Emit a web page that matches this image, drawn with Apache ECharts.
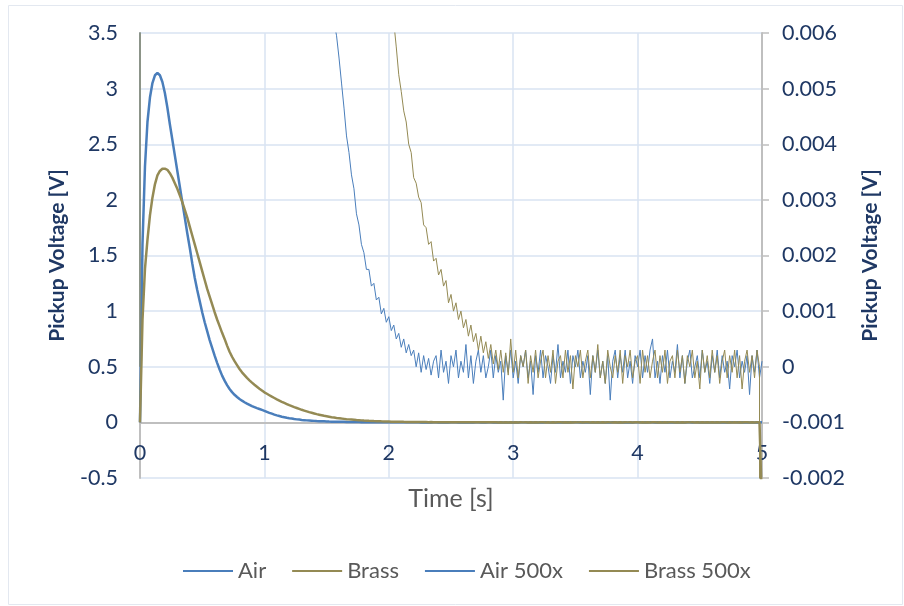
<!DOCTYPE html>
<html>
<head>
<meta charset="utf-8">
<title>Pickup Voltage</title>
<script src="https://cdn.jsdelivr.net/npm/echarts@6.0.0/dist/echarts.min.js"></script>
<style>
  html, body { margin: 0; padding: 0; background: #ffffff; }
  #pickupChart { width: 904px; height: 606px; }
</style>
</head>
<body>
<div id="pickupChart"></div>
<script>
// sample times [s], one sample every 0.02 s from 0 to 5
const times = Array.from({ length: 251 }, (_, i) => +(i * 0.02).toFixed(2));

// pickup voltage [V], ten samples per row (row start time in comment)
const airVolts = [
  0, 1.60, 2.30, 2.70, 2.92, 3.05, 3.12, 3.14, 3.12, 3.06,                                  // 0.00
  2.96, 2.83, 2.68, 2.54, 2.40, 2.26, 2.12, 1.98, 1.84, 1.70,                               // 0.20
  1.57, 1.43, 1.30, 1.19, 1.09, 0.99, 0.90, 0.82, 0.74, 0.67,                               // 0.40
  0.60, 0.535, 0.475, 0.42, 0.375, 0.335, 0.30, 0.272, 0.248, 0.228,                        // 0.60
  0.21, 0.195, 0.181, 0.168, 0.157, 0.146, 0.137, 0.128, 0.12, 0.112,                       // 0.80
  0.104, 0.095, 0.086, 0.078, 0.070, 0.063, 0.057, 0.051, 0.046, 0.041,                     // 1.00
  0.037, 0.034, 0.030, 0.027, 0.025, 0.022, 0.020, 0.018, 0.0165, 0.0150,                   // 1.20
  0.0135, 0.0122, 0.0111, 0.0100, 0.0091, 0.0082, 0.0074, 0.0067, 0.0062, 0.00595,          // 1.40
  0.00555, 0.0051, 0.00465, 0.00415, 0.00385, 0.00345, 0.0032, 0.00275, 0.00255, 0.0022,    // 1.60
  0.00205, 0.00175, 0.00175, 0.00145, 0.0015, 0.0012, 0.00125, 0.00095, 0.00105, 0.0008,    // 1.80
  0.0009, 0.00065, 0.00075, 0.0005, 0.0006, 0.00035, 0.0005, 0.00025, 0.0004, 0.0002,       // 2.00
  0.0003, 0.0000, 0.00025, -0.0001, 0.0002, -0.00005, 0.00015, -0.00015, 0.0001, 0.0002,    // 2.20
  -0.0002, 0.0003, -0.0001, 0.0001, -0.0003, 0.0002, 0.0000, 0.0003, -0.0002, 0.0001,       // 2.40
  -0.0001, 0.0004, -0.0002, 0.0002, -0.0003, 0.0001, 0.0003, -0.0001, 0.0002, -0.0002,      // 2.60
  0.0000, 0.0003, -0.0002, 0.0002, -0.0001, 0.0001, -0.0006, 0.0002, -0.0001, 0.0003,       // 2.80
  -0.0002, 0.0001, -0.0003, 0.0002, 0.0000, 0.0003, -0.0002, 0.0001, -0.0005, 0.0002,       // 3.00
  -0.0001, 0.0003, -0.0002, 0.0002, 0.0000, -0.0003, 0.0002, -0.0001, 0.0004, -0.0002,      // 3.20
  0.0001, -0.0001, 0.0003, -0.0003, 0.0002, 0.0000, 0.0003, -0.0002, 0.0001, -0.0001,       // 3.40
  0.0002, -0.0005, 0.0002, -0.0001, 0.0003, -0.0002, 0.0001, -0.0003, 0.0002, -0.0006,      // 3.60
  0.0001, 0.0003, -0.0002, 0.0002, -0.0001, 0.0003, -0.0002, 0.0001, -0.0003, 0.0002,       // 3.80
  0.0000, 0.0003, -0.0002, 0.0002, -0.0001, 0.0003, 0.0005, -0.0002, 0.0001, -0.0003,       // 4.00
  0.0002, -0.0001, 0.0003, -0.0002, 0.0001, -0.0001, 0.0004, -0.0002, 0.0002, -0.0003,      // 4.20
  0.0001, 0.0003, -0.0002, 0.0000, 0.0002, -0.0002, 0.0003, -0.0001, 0.0001, -0.0003,       // 4.40
  0.0002, -0.0001, 0.0003, -0.0002, 0.0002, -0.0001, 0.0001, -0.0004, 0.0002, 0.0000,       // 4.60
  0.0003, -0.0002, 0.0001, -0.0001, 0.0002, -0.0005, 0.0002, -0.0001, 0.0003, -0.0002,      // 4.80
  0.0001                                                                                    // 5.00
];

const brassVolts = [
  0, 0.92, 1.38, 1.64, 1.86, 2.02, 2.14, 2.22, 2.26, 2.28,                                  // 0.00
  2.28, 2.27, 2.24, 2.20, 2.15, 2.10, 2.04, 1.98, 1.91, 1.84,                               // 0.20
  1.76, 1.68, 1.60, 1.52, 1.44, 1.36, 1.28, 1.20, 1.13, 1.06,                               // 0.40
  0.99, 0.925, 0.865, 0.805, 0.75, 0.69, 0.635, 0.59, 0.55, 0.515,                          // 0.60
  0.48, 0.45, 0.425, 0.40, 0.378, 0.357, 0.338, 0.32, 0.302, 0.286,                         // 0.80
  0.27, 0.257, 0.244, 0.231, 0.219, 0.207, 0.196, 0.185, 0.175, 0.165,                      // 1.00
  0.155, 0.146, 0.137, 0.129, 0.121, 0.113, 0.106, 0.099, 0.092, 0.086,                     // 1.20
  0.080, 0.074, 0.069, 0.064, 0.059, 0.055, 0.051, 0.047, 0.0435, 0.040,                    // 1.40
  0.037, 0.034, 0.0315, 0.029, 0.027, 0.025, 0.023, 0.021, 0.0195, 0.018,                   // 1.60
  0.0165, 0.0152, 0.014, 0.0129, 0.0119, 0.011, 0.0101, 0.0093, 0.0086, 0.0079,             // 1.80
  0.0073, 0.0067, 0.0062, 0.00575, 0.00525, 0.00495, 0.0046, 0.0044, 0.004, 0.00385,        // 2.00
  0.0034, 0.0033, 0.00305, 0.00295, 0.00255, 0.0025, 0.0022, 0.00225, 0.0019, 0.00195,      // 2.20
  0.00165, 0.00175, 0.00145, 0.00155, 0.00115, 0.0013, 0.001, 0.00115, 0.00085, 0.001,      // 2.40
  0.0007, 0.00085, 0.00055, 0.00075, 0.00045, 0.0006, 0.0003, 0.00055, 0.00025, 0.00045,    // 2.60
  0.00015, 0.0004, 0.00005, 0.0003, -0.00005, 0.0003, -0.0001, 0.00025, -0.00015, 0.0005,   // 2.80
  -0.0001, 0.0003, -0.0002, 0.0002, 0.0000, 0.0003, -0.0003, 0.0002, -0.0001, 0.0003,       // 3.00
  -0.0002, 0.0001, 0.0003, -0.0002, 0.0002, -0.0001, 0.0003, -0.0003, 0.0001, 0.0002,       // 3.20
  -0.0002, 0.0003, -0.0001, 0.0002, -0.0004, 0.0002, 0.0000, 0.0003, -0.0002, 0.0001,       // 3.40
  0.0003, -0.0002, 0.0002, -0.0001, 0.0004, -0.0002, 0.0001, -0.0003, 0.0003, 0.0000,       // 3.60
  -0.0002, 0.0002, -0.0001, 0.0003, -0.0003, 0.0002, 0.0000, 0.0003, -0.0002, 0.0001,       // 3.80
  0.0002, -0.0003, 0.0003, -0.0001, 0.0002, -0.0002, 0.0001, 0.0003, -0.0002, 0.0002,       // 4.00
  -0.0001, 0.0003, -0.0003, 0.0001, 0.0002, -0.0002, 0.0003, -0.0001, 0.0002, -0.0003,      // 4.20
  0.0002, 0.0000, 0.0003, -0.0002, 0.0001, -0.0004, 0.0003, -0.0001, 0.0002, -0.0002,       // 4.40
  0.0003, -0.0001, 0.0002, -0.0003, 0.0001, 0.0003, -0.0002, 0.0002, -0.0001, 0.0003,       // 4.60
  -0.0002, 0.0002, -0.0004, 0.0001, 0.0003, -0.0001, 0.0002, -0.0002, 0.0003, 0.0000,       // 4.80
  -0.8                                                                                      // 5.00
];

const seriesNames = ['Air', 'Brass', 'Air 500x', 'Brass 500x'];

document.addEventListener('DOMContentLoaded', function() {
  const chart = echarts.init(document.getElementById('pickupChart'));
  const navy = '#1f3864';
  const gridColor = '#d9e3f2';
  const axisGray = '#bfbfbf';
  const blue = '#4a7ebb';
  const olive = '#948a54';
  const font = 'Lato, "Open Sans", sans-serif';

  const pairs = function(vals) {
    return times.map(function(t, i) { return [t, vals[i]]; });
  };

  const lineSeries = function(name, vals, color, width, axis) {
    return {
      name: name,
      type: 'line',
      yAxisIndex: axis,
      data: pairs(vals),
      symbol: 'none',
      showSymbol: false,
      clip: true,
      lineStyle: { color: color, width: width },
      itemStyle: { color: color },
      emphasis: { disabled: true }
    };
  };

  const option = {
    animation: false,
    backgroundColor: '#ffffff',
    textStyle: { fontFamily: font },
    grid: { left: 140, right: 142, top: 33, bottom: 128 },
    graphic: [{
      type: 'rect',
      shape: { x: 8.5, y: 5.5, width: 894, height: 599 },
      style: { fill: 'none', stroke: '#e3e8f0', lineWidth: 1 },
      silent: true
    }],
    legend: {
      data: seriesNames,
      left: 177,
      top: 555,
      itemWidth: 50,
      itemHeight: 10,
      itemGap: 25,
      itemStyle: { opacity: 0 },
      textStyle: { color: '#595959', fontSize: 22, fontFamily: font }
    },
    xAxis: {
      type: 'value',
      min: 0,
      max: 5,
      interval: 1,
      name: 'Time [s]',
      nameLocation: 'middle',
      nameGap: 8,
      nameTextStyle: { color: '#595959', fontSize: 25, fontFamily: font },
      axisLine: { onZero: true, lineStyle: { color: axisGray, width: 2 } },
      axisTick: { show: false },
      axisLabel: { color: navy, fontSize: 21.5, margin: -36, fontFamily: font },
      splitLine: { show: true, lineStyle: { color: gridColor, width: 1.5 } }
    },
    yAxis: [
      {
        type: 'value',
        min: -0.5,
        max: 3.5,
        interval: 0.5,
        name: 'Pickup Voltage [V]',
        nameLocation: 'middle',
        nameGap: 72,
        nameTextStyle: { color: navy, fontSize: 21, fontWeight: 'bold', fontFamily: font },
        axisLine: { show: true, lineStyle: { color: axisGray, width: 2 } },
        axisTick: { show: false },
        axisLabel: { color: navy, fontSize: 21.5, margin: 22, fontFamily: font },
        splitLine: { show: true, lineStyle: { color: gridColor, width: 1.5 } }
      },
      {
        type: 'value',
        position: 'right',
        min: -0.002,
        max: 0.006,
        interval: 0.001,
        name: 'Pickup Voltage [V]',
        nameLocation: 'middle',
        nameGap: 98,
        nameRotate: 90,
        nameTextStyle: { color: navy, fontSize: 21, fontWeight: 'bold', fontFamily: font },
        axisLine: { show: true, lineStyle: { color: axisGray, width: 2 } },
        axisTick: { show: true, inside: false, length: 7, lineStyle: { color: axisGray, width: 1.5 } },
        axisLabel: {
          color: navy,
          fontSize: 21.5,
          margin: 20,
          fontFamily: font,
          formatter: function(v) { return Math.abs(v) < 1e-9 ? '0' : v.toFixed(3); }
        },
        splitLine: { show: false }
      }
    ],
    series: [
      lineSeries('Air', airVolts, blue, 2.5, 0),
      lineSeries('Brass', brassVolts, olive, 2.5, 0),
      lineSeries('Air 500x', airVolts, blue, 1, 1),
      lineSeries('Brass 500x', brassVolts, olive, 1, 1)
    ]
  };
  chart.setOption(option);
});
</script>
</body>
</html>
